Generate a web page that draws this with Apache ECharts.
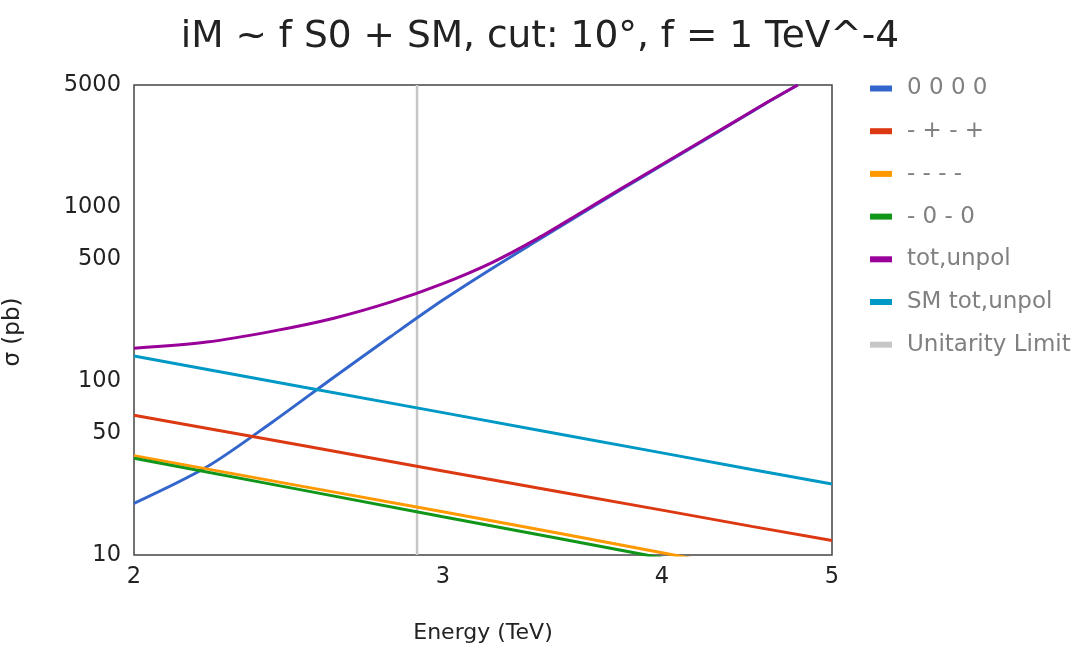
<!DOCTYPE html>
<html>
<head>
<meta charset="utf-8">
<script src="https://cdn.jsdelivr.net/npm/echarts@6/dist/echarts.min.js"></script>
<style>html,body{margin:0;padding:0;background:#fff;}#c{width:1080px;height:651px;}</style>
</head>
<body>
<div id="c"></div>
<script>
// Curved series sampled energies (TeV)
const energyCurve = [2.0, 2.2, 2.4, 2.6, 2.8, 3.0, 3.2, 3.4, 3.6, 3.8, 4.0, 4.2, 4.4, 4.6, 4.78];
const sig0000 = [19.8, 32.0, 58.3, 105, 179, 291, 442, 644, 915, 1272, 1729, 2316, 3066, 4005, 5000];
const sigTotUnpol = [153.8, 167, 193, 229, 283, 362, 478, 660, 930, 1289, 1747, 2338, 3082, 4016, 5000];
// Straight (power-law) series sampled energies
const energyLine = [2.0, 2.5, 3.0, 3.5, 4.0, 4.5, 5.0];
const sigSMTot = [139, 91.9, 65.7, 49.4, 38.6, 31.0, 25.6];
const sigMPMP = [63.5, 42.4, 30.4, 23.0, 18.1, 14.6, 12.1];
const energyShort = [2.0, 2.5, 3.0, 3.5, 4.0, 4.5];
const sigMMMM = [37.2, 24.7, 17.7, 13.3, 10.3, 8.2];
const sigM0M0 = [35.9, 23.5, 16.6, 12.4, 9.6, 7.7];
// Unitarity limit
const unitarityE = [2.9, 2.9];
const unitarityS = [10, 5000];
// Tick labels
const xTicks = [2, 3, 4, 5];
const yTicks = [10, 50, 100, 500, 1000, 5000];
const seriesNames = ['0 0 0 0', '- + - +', '- - - -', '- 0 - 0', 'tot,unpol', 'SM tot,unpol', 'Unitarity Limit'];
const colors = ['#3366cc', '#dc3912', '#ff9900', '#109618', '#990099', '#0099c6', '#c6c6c6'];

function pairs(xs, ys) { return xs.map((x, i) => [x, ys[i]]); }

const chart = echarts.init(document.getElementById('c'), null, {renderer: 'canvas'});
const FONT = 'DejaVu Sans';
const mk = (name, data, color, extra) => Object.assign({
  name, type: 'line', data, showSymbol: false, symbol: 'none',
  lineStyle: {width: 3, color}, itemStyle: {color}, color, clip: true, animation: false
}, extra || {});

chart.setOption({
  animation: false,
  backgroundColor: '#fff',
  title: {
    text: 'iM ~ f S0 + SM, cut: 10°, f = 1 TeV^-4',
    left: 'center', top: 13,
    textStyle: {fontFamily: FONT, fontSize: 37.5, fontWeight: 'normal', color: '#222'}
  },
  legend: {
    orient: 'vertical', left: 865, top: 72,
    icon: 'rect', itemWidth: 22, itemHeight: 6, itemGap: 19.7,
    data: seriesNames,
    textStyle: {fontFamily: FONT, fontSize: 23, color: '#808080', lineHeight: 22, padding: [0, 0, 0, 10]}
  },
  grid: {left: 134, right: 248, top: 85, bottom: 96, show: true, borderColor: '#444', borderWidth: 1.5, outerBoundsMode: 'none'},
  xAxis: {
    type: 'log', logBase: 10, min: 2, max: 5,
    name: 'Energy (TeV)', nameLocation: 'middle', nameGap: 67,
    nameTextStyle: {fontFamily: FONT, fontSize: 22, color: '#222'},
    axisLine: {show: false}, axisTick: {show: false}, splitLine: {show: false},
    axisLabel: {customValues: xTicks, fontFamily: FONT, fontSize: 22.5, color: '#222', margin: 11,
      formatter: v => String(Math.round(v))}
  },
  yAxis: {
    type: 'log', logBase: 10, min: 10, max: 5000,
    name: 'σ (pb)', nameLocation: 'middle', nameGap: 109,
    nameTextStyle: {fontFamily: FONT, fontSize: 23, color: '#222', padding: [0, 24, 0, 0]},
    axisLine: {show: false}, axisTick: {show: false}, splitLine: {show: false},
    axisLabel: {customValues: yTicks, fontFamily: FONT, fontSize: 22.5, color: '#222', margin: 13,
      formatter: v => String(Math.round(v))}
  },
  series: [
    mk(seriesNames[0], pairs(energyCurve, sig0000), colors[0], {smooth: 0.3, z: 3}),
    mk(seriesNames[1], pairs(energyLine, sigMPMP), colors[1], {z: 3}),
    mk(seriesNames[2], pairs(energyShort, sigMMMM), colors[2], {z: 3}),
    mk(seriesNames[3], pairs(energyShort, sigM0M0), colors[3], {z: 3}),
    mk(seriesNames[4], pairs(energyCurve, sigTotUnpol), colors[4], {smooth: 0.3, z: 3}),
    mk(seriesNames[5], pairs(energyLine, sigSMTot), colors[5], {z: 3}),
    mk(seriesNames[6], pairs(unitarityE, unitarityS), colors[6], {lineStyle: {width: 2.5, color: colors[6]}, z: 2})
  ]
});
</script>
</body>
</html>
